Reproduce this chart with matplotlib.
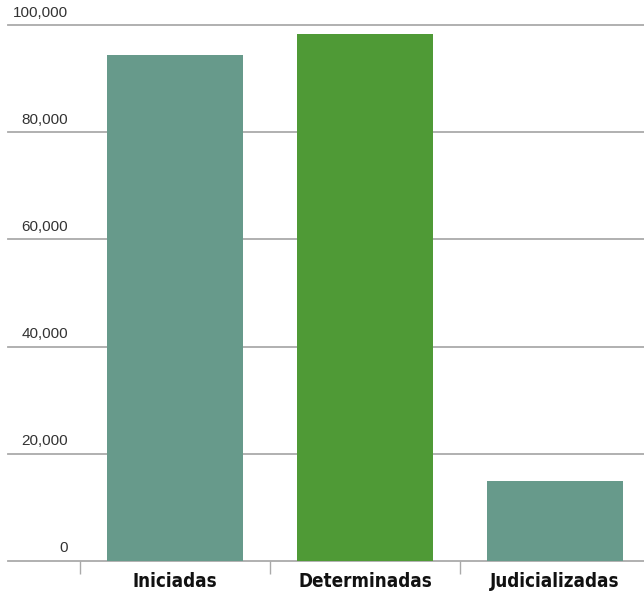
import matplotlib.pyplot as plt
from matplotlib.ticker import FixedLocator

categorias = ['Iniciadas', 'Determinadas', 'Judicializadas']
valores = [94500, 98400, 14900]
colores = ['#679A8B', '#4F9A36', '#679A8B']
yticks = [0, 20000, 40000, 60000, 80000, 100000]

W, H = 644, 592
fig = plt.figure(figsize=(W / 100, H / 100), dpi=100)
# eje: izquierda en x=80px, cero en y=560.5px, 100,000 en y=25.5px
ax = fig.add_axes([80 / W, 31.5 / H, 564 / W, 535 / H])

x = list(range(len(categorias)))
ax.bar(x, valores, width=0.72, color=colores, zorder=2)

ax.set_ylim(0, 100000)
ax.set_xlim(-0.5, -0.5 + 564 / 190)

# lineas de grilla que salen a la izquierda del eje
for v in yticks:
    ax.axhline(v, xmin=-72 / 564, xmax=1, color='#aaaaaa', lw=1.3, clip_on=False, zorder=1)
    ax.text(-12 / 564, v + 1100, f'{v:,}', transform=ax.get_yaxis_transform(),
            ha='right', va='bottom', fontsize=11, color='#333333', family='Liberation Sans')

for s in ax.spines.values():
    s.set_visible(False)

ax.set_yticks([])
ax.set_xticks(x)
ax.set_xticklabels(categorias, fontsize=13.5, fontweight='bold', color='#111111',
                   family='DejaVu Sans', fontstretch='condensed')
ax.xaxis.set_minor_locator(FixedLocator([-0.5, 0.5, 1.5]))
ax.tick_params(axis='x', which='major', length=0, pad=8)
ax.tick_params(axis='x', which='minor', length=9, width=1, color='#aaaaaa', direction='out')

fig.savefig('out.png', dpi=100)
